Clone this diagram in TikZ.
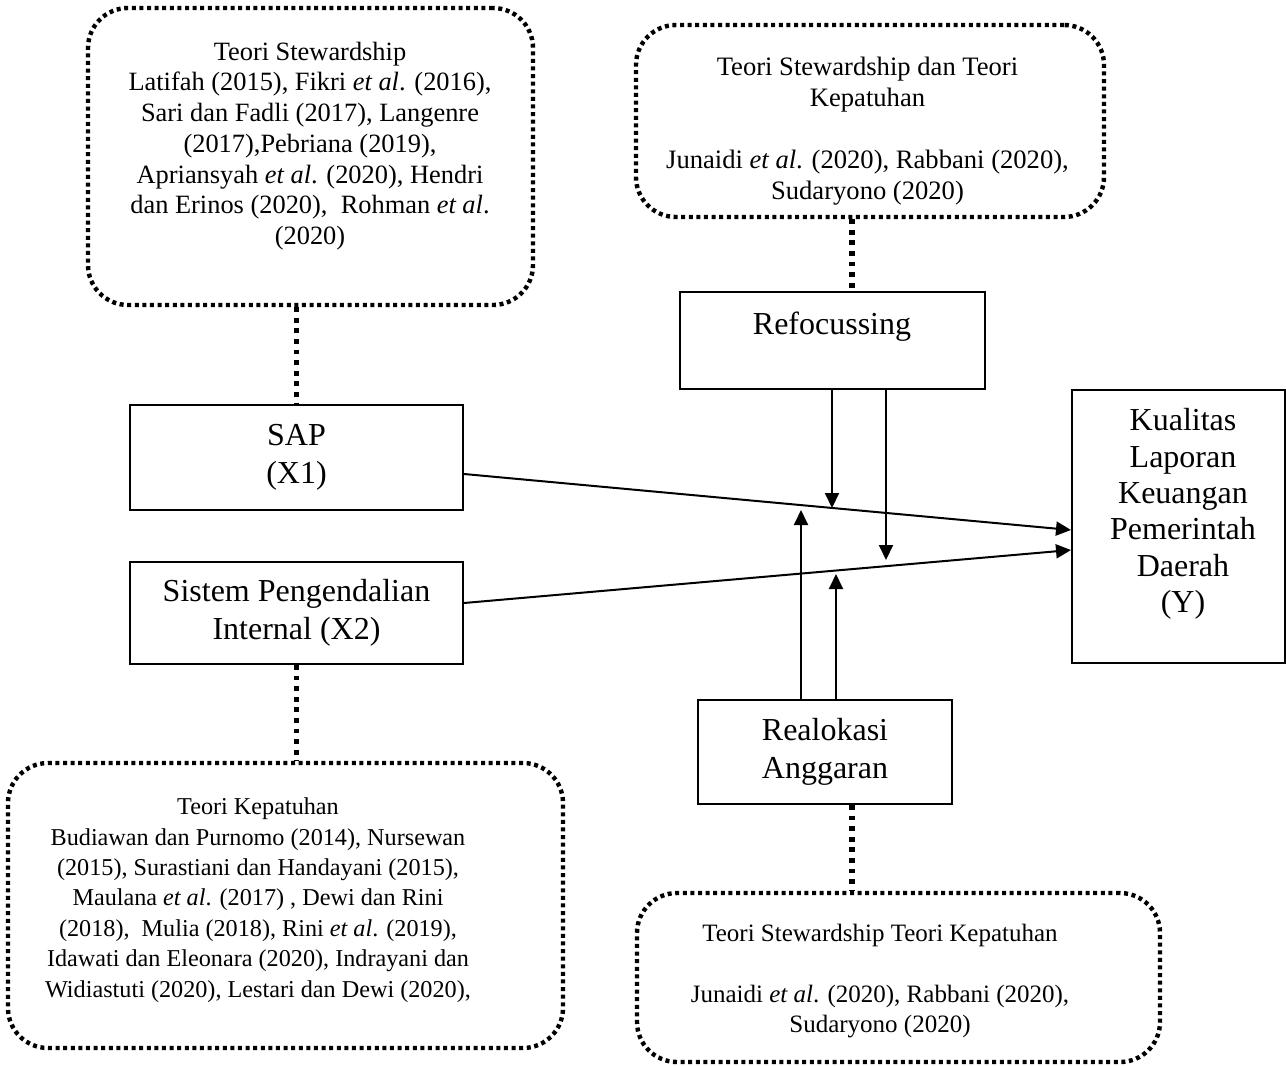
\documentclass[tikz,border=0pt]{standalone}
\usepackage{fontspec}
\setmainfont{Liberation Serif}
\usetikzlibrary{arrows.meta}
\tikzset{
  dotbox/.style={draw, line width=2.2pt, dash pattern=on 2pt off 1.8pt, rounded corners=20pt, inner sep=0pt},
  solidbox/.style={draw, line width=1pt, inner sep=0pt},
  dotlink/.style={line width=2.7pt, dash pattern=on 2.4pt off 2.9pt},
  arr/.style={line width=1pt, -{Triangle[length=7.5pt,width=7pt]}},
  small/.style={align=center, inner sep=0pt},
  big/.style={align=center, font=\fontsize{16}{18.75}\selectfont},
}
\begin{document}
\begin{tikzpicture}[x=0.5pt,y=-0.5pt]
\useasboundingbox (0,0) rectangle (1286,1066);
% dotted theory boxes
\node[dotbox, minimum width=222.5pt, minimum height=148.5pt] (tl) at (310.5,156.5) {};
\node[dotbox, minimum width=234pt, minimum height=96pt] (tr) at (870,121) {};
\node[dotbox, minimum width=277.5pt, minimum height=142.5pt] (bl) at (285.5,905.5) {};
\node[dotbox, minimum width=261.5pt, minimum height=84.5pt] (br) at (898.5,977.5) {};
\node[small, font=\fontsize{13.2}{15.35}\selectfont] (tltext) at (310,146) {Teori Stewardship\\Latifah (2015), Fikri \textit{et al}. (2016),\\Sari dan Fadli (2017), Langenre\\(2017),Pebriana (2019),\\Apriansyah \textit{et al}. (2020), Hendri\\dan Erinos (2020),~ Rohman \textit{et al}.\\(2020)};
\node[small, font=\fontsize{13.3}{15.5}\selectfont] (trtext) at (867.5,131) {Teori Stewardship dan Teori\\Kepatuhan\\[15.5pt]Junaidi \textit{et al}. (2020), Rabbani (2020),\\Sudaryono (2020)};
\node[small, font=\fontsize{12.1}{15.2}\selectfont] (bltext) at (258,900) {Teori Kepatuhan\\Budiawan dan Purnomo (2014), Nursewan\\(2015), Surastiani dan Handayani (2015),\\Maulana \textit{et al}. (2017) , Dewi dan Rini\\(2018),~ Mulia (2018), Rini \textit{et al}. (2019),\\Idawati dan Eleonara (2020), Indrayani dan\\Widiastuti (2020), Lestari dan Dewi (2020),};
\node[small, font=\fontsize{12.5}{15.25}\selectfont] (brtext) at (880,981) {Teori Stewardship Teori Kepatuhan\\[15.25pt]Junaidi \textit{et al}. (2020), Rabbani (2020),\\Sudaryono (2020)};
% variable boxes
\node[solidbox, big, minimum width=166.5pt, minimum height=52.5pt] (sap) at (296.5,457.5) {SAP\\(X1)};
\node[solidbox, big, minimum width=166.5pt, minimum height=51pt] (spi) at (296.5,613) {Sistem Pengendalian\\Internal (X2)};
\node[solidbox, minimum width=152.5pt, minimum height=48.5pt] (ref) at (832.5,340.5) {};
\node[big] (reftext) at (832,327) {Refocussing};
\node[solidbox, big, minimum width=127pt, minimum height=52pt] (rea) at (825,752) {Realokasi\\Anggaran};
\node[solidbox, minimum width=106.5pt, minimum height=136.5pt] (kual) at (1178.5,526.5) {};
\node[big, font=\fontsize{16}{18.2}\selectfont] (kualtext) at (1183,514) {Kualitas\\Laporan\\Keuangan\\Pemerintah\\Daerah\\(Y)};
% dotted links
\draw[dotlink] (tl.south -| sap.north) -- (sap.north);
\draw[dotlink] (spi.south) -- (bl.north -| spi.south);
\draw[dotlink] (tr.south -| 852,0) -- (ref.north -| 852,0);
\draw[dotlink] (rea.south -| 852,0) -- (br.north -| 852,0);
% main arrows
\draw[arr] ([yshift=-8.25pt]sap.east) -- ([yshift=-1.75pt]kual.west);
\draw[arr] ([yshift=5pt]spi.east) -- ([yshift=-11.75pt]kual.west);
% moderating arrows
\coordinate (m1) at (832,508);
\coordinate (m2) at (886,560);
\coordinate (m3) at (801,510);
\coordinate (m4) at (836,574);
\draw[arr] (ref.south -| m1) -- (m1);
\draw[arr] (ref.south -| m2) -- (m2);
\draw[arr] (rea.north -| m3) -- (m3);
\draw[arr] (rea.north -| m4) -- (m4);
\end{tikzpicture}
\end{document}
